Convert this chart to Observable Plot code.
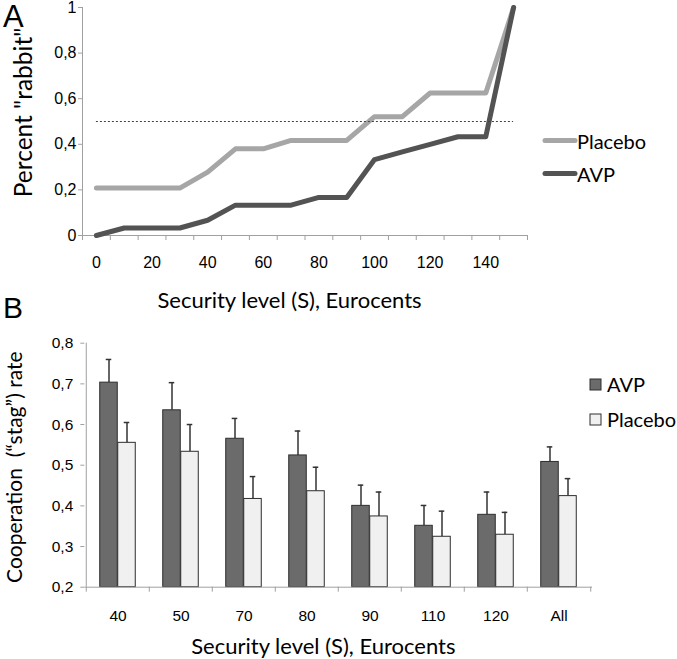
<!DOCTYPE html>
<html><head><meta charset="utf-8">
<script src="https://cdn.jsdelivr.net/npm/d3@7"></script>
<script src="https://cdn.jsdelivr.net/npm/@observablehq/plot@0.6"></script>
<style>
body{margin:0;background:#fff}
#wrap{position:relative;width:677px;height:659px;overflow:hidden}
.panel{position:absolute;left:0}
#overlay{position:absolute;left:0;top:0;pointer-events:none}
</style></head><body>
<div id="wrap">
  <div id="pA" class="panel" style="top:0"></div>
  <div id="pB" class="panel" style="top:330px"></div>
</div>
<script>
// ---------- Panel A data ----------
const securityA = [0,10,20,30,40,50,60,70,80,90,100,110,120,130,140,150];
const placeboA  = [0.208,0.208,0.208,0.208,0.278,0.38,0.38,0.417,0.417,0.417,0.521,0.521,0.625,0.625,0.625,1];
const avpA      = [0,0.033,0.033,0.033,0.067,0.133,0.133,0.133,0.167,0.167,0.333,0.367,0.4,0.433,0.433,1];
const thresholdA = 0.5;
const xTicksA = [0,20,40,60,80,100,120,140];
const yTicksA = [0,0.2,0.4,0.6,0.8,1];
const seriesA = ["Placebo","AVP"];

// ---------- Panel B data ----------
const categoriesB = ["40","50","70","80","90","110","120","All"];
const avpB        = [0.703,0.635,0.565,0.524,0.400,0.351,0.378,0.508];
const avpErrB     = [0.057,0.068,0.050,0.060,0.051,0.050,0.056,0.037];
const placeboB    = [0.555,0.533,0.417,0.436,0.374,0.324,0.329,0.424];
const placeboErrB = [0.050,0.067,0.055,0.059,0.060,0.063,0.055,0.043];
const yTicksB = [0.2,0.3,0.4,0.5,0.6,0.7,0.8];
const seriesB = ["AVP","Placebo"];

const titleX  = "Security level (S), Eurocents";
const titleYA = "Percent \"rabbit\"";
const titleYB = "Cooperation  (\u201Cstag\u201D) rate";

// ---------- styles ----------
const placeboLine = "#a6a6a6", avpLine = "#535353";
const avpFill = "#6b6b6b", placeboFill = "#f0f0f0", barStroke = "#2e2e2e", errColor = "#333333";
const axisGray = "#a0a0a0";
const titleFont = "Lato, 'Open Sans', sans-serif";
const tickFont = "'Liberation Sans', Arial, sans-serif";

const fmt = d3.formatLocale({decimal: ",", thousands: ".", grouping: [3], currency: ["", ""]}).format("~g");

// ---------- Panel A ----------
const rowsA = securityA.flatMap((s, i) => [
  {s, v: placeboA[i], k: "Placebo"},
  {s, v: avpA[i], k: "AVP"}
]);
const stepA = securityA[1] - securityA[0];
const xDomA = [securityA[0] - stepA / 2, securityA[securityA.length - 1] + stepA / 2];
const boundsA = d3.range(xDomA[0], xDomA[1] + 1, stepA);

const plotA = Plot.plot({
  width: 677, height: 320,
  marginLeft: 82, marginRight: 150, marginTop: 7, marginBottom: 85,
  style: {fontFamily: tickFont, fontSize: "16px", color: "#000", background: "transparent", overflow: "visible"},
  x: {domain: xDomA},
  y: {domain: [0, 1]},
  color: {domain: seriesA, range: [placeboLine, avpLine]},
  marks: [
    Plot.ruleY([0], {stroke: axisGray}),
    Plot.ruleX([xDomA[0]], {stroke: axisGray}),
    Plot.axisY({ticks: yTicksA, tickFormat: fmt, tickSize: 4, tickPadding: 2, stroke: axisGray, fill: "#000", fontSize: 16, label: null}),
    Plot.axisX({ticks: boundsA, tickSize: 5, tickFormat: () => "", stroke: axisGray, label: null}),
    Plot.axisX({ticks: xTicksA, tickSize: 0, tickPadding: 21, fill: "#000", fontSize: 16, label: null}),
    Plot.line(rowsA, {x: "s", y: "v", z: "k", stroke: "k", strokeWidth: 5, strokeLinejoin: "round"}),
    Plot.ruleY([thresholdA], {x1: securityA[0], x2: securityA[securityA.length - 1], stroke: "#444", strokeWidth: 1, strokeDasharray: "2,2"}),
    Plot.text([titleX], {frameAnchor: "bottom", lineAnchor: "middle", dy: 65, dx: -15.5, fontFamily: titleFont, fontSize: 22, fill: "#000"}),
    Plot.text([titleYA], {frameAnchor: "left", lineAnchor: "middle", rotate: -90, textAnchor: "middle", dx: -58, dy: -9, fontFamily: titleFont, fontSize: 24.5, fill: "#000"})
  ]
});
document.getElementById("pA").appendChild(plotA);

// ---------- Panel B ----------
const rowsB = categoriesB.flatMap((c, i) => [
  {c, k: "AVP", v: avpB[i], e: avpErrB[i]},
  {c, k: "Placebo", v: placeboB[i], e: placeboErrB[i]}
]);
const avpRows = rowsB.filter(d => d.k === "AVP");
const plRows = rowsB.filter(d => d.k === "Placebo");
const wB = 677, mlB = 84.3, mrB = 85;
const half = (wB - mlB - mrB) / categoriesB.length / 2;
const barW = 18, capW = 6;

const plotB = Plot.plot({
  width: wB, height: 329,
  marginLeft: mlB, marginRight: mrB, marginTop: 12.7, marginBottom: 72.3,
  style: {fontFamily: tickFont, fontSize: "15.5px", color: "#000", background: "transparent", overflow: "visible"},
  x: {domain: categoriesB, padding: 0},
  y: {domain: [yTicksB[0], yTicksB[yTicksB.length - 1]]},
  marks: [
    Plot.ruleX(avpRows, {x: "c", y1: "v", y2: d => d.v + d.e, dx: -barW / 2, stroke: errColor, strokeWidth: 1.5}),
    Plot.ruleX(plRows, {x: "c", y1: "v", y2: d => d.v + d.e, dx: barW / 2, stroke: errColor, strokeWidth: 1.5}),
    Plot.tickY(avpRows, {x: "c", y: d => d.v + d.e, insetLeft: half - barW / 2 - capW / 2, insetRight: half + barW / 2 - capW / 2, stroke: errColor, strokeWidth: 1.5}),
    Plot.tickY(plRows, {x: "c", y: d => d.v + d.e, insetLeft: half + barW / 2 - capW / 2, insetRight: half - barW / 2 - capW / 2, stroke: errColor, strokeWidth: 1.5}),
    Plot.barY(avpRows, {x: "c", y1: yTicksB[0], y2: "v", fill: avpFill, stroke: barStroke, strokeWidth: 1, insetLeft: half - barW, insetRight: half}),
    Plot.barY(plRows, {x: "c", y1: yTicksB[0], y2: "v", fill: placeboFill, stroke: barStroke, strokeWidth: 1, insetLeft: half, insetRight: half - barW}),
    Plot.ruleY([yTicksB[0]], {stroke: axisGray}),
    Plot.ruleX([categoriesB[0]], {dx: -half, stroke: axisGray}),
    Plot.axisY({ticks: yTicksB, tickFormat: fmt, tickSize: 4, tickPadding: 7.5, stroke: axisGray, fill: "#000", fontSize: 15.5, label: null}),
    Plot.axisX({ticks: categoriesB, tickSize: 5, tickFormat: () => "", dx: -half, stroke: axisGray, label: null}),
    Plot.axisX({ticks: categoriesB.slice(-1), tickSize: 5, tickFormat: () => "", dx: half, stroke: axisGray, label: null}),
    Plot.axisX({ticks: categoriesB, tickSize: 0, tickPadding: 23, fill: "#000", fontSize: 15.5, label: null}),
    Plot.text([titleX], {frameAnchor: "bottom", lineAnchor: "middle", dy: 59.5, dx: -15.3, fontFamily: titleFont, fontSize: 22, fill: "#000"}),
    Plot.text([titleYB], {frameAnchor: "left", lineAnchor: "middle", rotate: -90, textAnchor: "middle", dx: -70, dy: 2, fontFamily: titleFont, fontSize: 21, fill: "#000"})
  ]
});
document.getElementById("pB").appendChild(plotB);

// ---------- Panel labels & legends (overlay) ----------
const ov = d3.select("#wrap").append("svg").attr("id", "overlay").attr("width", 677).attr("height", 659);
ov.append("text").attr("x", 3).attr("y", 26.7).attr("font-family", tickFont).attr("font-size", 31).text("A");
ov.append("text").attr("x", 3).attr("y", 318.3).attr("font-family", tickFont).attr("font-size", 30).text("B");

const legA = [
  {k: seriesA[0], color: placeboLine, y: 140.5},
  {k: seriesA[1], color: avpLine, y: 173.5}
];
legA.forEach(d => {
  ov.append("line").attr("x1", 545).attr("x2", 575).attr("y1", d.y).attr("y2", d.y)
    .attr("stroke", d.color).attr("stroke-width", 5).attr("stroke-linecap", "round");
  ov.append("text").attr("x", 577).attr("y", d.y + 8).attr("font-family", titleFont).attr("font-size", 20).text(d.k);
});
const legB = [
  {k: seriesB[0], fill: avpFill, y: 384.5},
  {k: seriesB[1], fill: placeboFill, y: 419.5}
];
legB.forEach(d => {
  ov.append("rect").attr("x", 590).attr("y", d.y - 5.5).attr("width", 11).attr("height", 11)
    .attr("fill", d.fill).attr("stroke", barStroke).attr("stroke-width", 1);
  ov.append("text").attr("x", 607).attr("y", d.y + 7).attr("font-family", titleFont).attr("font-size", 20).text(d.k);
});
</script>
</body></html>
